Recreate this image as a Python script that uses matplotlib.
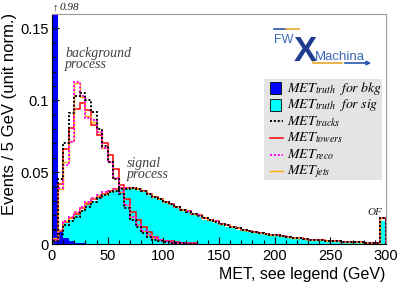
import numpy as np
import matplotlib
matplotlib.use("Agg")
import matplotlib.pyplot as plt
from matplotlib.patches import Rectangle, FancyArrowPatch
from matplotlib.lines import Line2D
from matplotlib.ticker import MultipleLocator, FuncFormatter

W, H = 403, 289

# 5 GeV bins, 0-300 GeV, last bin holds the overflow
edges = np.arange(0, 305, 5)

sig_truth = [0.002, 0.0085, 0.0145, 0.017, 0.020, 0.024, 0.027, 0.030, 0.032, 0.034,
             0.036, 0.037, 0.038, 0.0385, 0.0385, 0.038, 0.037, 0.035, 0.033, 0.031,
             0.029, 0.027, 0.025, 0.023, 0.022, 0.020, 0.019, 0.017, 0.016, 0.0145,
             0.013, 0.012, 0.011, 0.010, 0.009, 0.0082, 0.0076, 0.007, 0.0063, 0.0058,
             0.0053, 0.0048, 0.0044, 0.004, 0.0036, 0.0032, 0.0028, 0.0025, 0.0022, 0.002,
             0.0018, 0.0016, 0.0014, 0.0012, 0.0011, 0.001, 0.0009, 0.0008, 0.0007, 0.016]
sig_tracks = [0.002, 0.007, 0.013, 0.016, 0.019, 0.023, 0.026, 0.029, 0.032, 0.034,
              0.036, 0.037, 0.038, 0.0385, 0.039, 0.038, 0.037, 0.035, 0.033, 0.031,
              0.029, 0.0275, 0.026, 0.024, 0.0225, 0.021, 0.0195, 0.018, 0.017, 0.0155,
              0.014, 0.013, 0.012, 0.011, 0.0098, 0.009, 0.0083, 0.0077, 0.007, 0.0064,
              0.006, 0.0054, 0.005, 0.0045, 0.004, 0.0035, 0.0031, 0.0028, 0.0025, 0.0022,
              0.002, 0.0018, 0.0016, 0.0014, 0.0012, 0.0011, 0.001, 0.0009, 0.0008, 0.018]
sig_towers = [0.003, 0.009, 0.015, 0.018, 0.021, 0.025, 0.028, 0.031, 0.033, 0.035,
              0.037, 0.038, 0.039, 0.039, 0.039, 0.038, 0.037, 0.035, 0.033, 0.031,
              0.029, 0.028, 0.026, 0.024, 0.023, 0.021, 0.020, 0.018, 0.017, 0.016,
              0.014, 0.013, 0.012, 0.011, 0.010, 0.009, 0.0085, 0.0078, 0.007, 0.0065,
              0.006, 0.0055, 0.005, 0.0045, 0.004, 0.0035, 0.003, 0.0028, 0.0025, 0.0022,
              0.002, 0.0018, 0.0016, 0.0014, 0.0012, 0.0011, 0.001, 0.0009, 0.0008, 0.018]
sig_reco = [0.003, 0.010, 0.016, 0.019, 0.022, 0.026, 0.029, 0.032, 0.034, 0.036,
            0.037, 0.038, 0.039, 0.039, 0.039, 0.038, 0.037, 0.035, 0.033, 0.031,
            0.029, 0.028, 0.026, 0.024, 0.023, 0.021, 0.020, 0.018, 0.017, 0.016,
            0.014, 0.013, 0.012, 0.011, 0.010, 0.009, 0.0085, 0.0078, 0.007, 0.0065,
            0.006, 0.0055, 0.005, 0.0045, 0.004, 0.0035, 0.003, 0.0028, 0.0025, 0.0022,
            0.002, 0.0018, 0.0016, 0.0014, 0.0012, 0.0011, 0.001, 0.0009, 0.0008, 0.018]
sig_jets = [0.003, 0.010, 0.016, 0.019, 0.022, 0.026, 0.029, 0.032, 0.034, 0.035,
            0.037, 0.038, 0.039, 0.039, 0.039, 0.038, 0.037, 0.035, 0.033, 0.031,
            0.029, 0.028, 0.026, 0.024, 0.023, 0.021, 0.020, 0.018, 0.017, 0.016,
            0.014, 0.013, 0.012, 0.011, 0.010, 0.009, 0.0085, 0.0078, 0.007, 0.0065,
            0.006, 0.0055, 0.005, 0.0045, 0.004, 0.0035, 0.003, 0.0028, 0.0025, 0.0022,
            0.002, 0.0018, 0.0016, 0.0014, 0.0012, 0.0011, 0.001, 0.0009, 0.0008, 0.018]

# background only fills the low bins
bkg_truth = [0.98, 0.009, 0.004, 0.002, 0.001, 0.0005]
bkg_tracks = [0.010, 0.045, 0.070, 0.091, 0.103, 0.105, 0.100, 0.092, 0.080, 0.068,
              0.057, 0.045, 0.035, 0.025, 0.017, 0.012, 0.008, 0.005, 0.003, 0.002,
              0.0015, 0.001, 0.0008, 0.0005, 0.0003, 0.0002]
bkg_towers = [0.003, 0.042, 0.066, 0.081, 0.094, 0.098, 0.093, 0.083, 0.076, 0.070,
              0.062, 0.052, 0.041, 0.031, 0.0225, 0.017, 0.012, 0.0085, 0.005, 0.003,
              0.002, 0.0018, 0.0012, 0.001, 0.0007, 0.0005]
bkg_reco = [0.003, 0.039, 0.055, 0.071, 0.113, 0.103, 0.088, 0.086, 0.078, 0.067,
            0.057, 0.046, 0.036, 0.027, 0.019, 0.013, 0.009, 0.006, 0.004, 0.003,
            0.002, 0.0015, 0.001, 0.0008, 0.0005, 0.0003]
bkg_jets = [0.004, 0.038, 0.057, 0.072, 0.112, 0.102, 0.089, 0.085, 0.078, 0.067,
            0.057, 0.046, 0.036, 0.027, 0.019, 0.013, 0.009, 0.006, 0.004, 0.003,
            0.002, 0.0015, 0.001, 0.0008, 0.0005, 0.0003]

legend_labels = [r"$MET_{truth}\ \ for\ bkg$", r"$MET_{truth}\ \ for\ sig$",
                 r"$MET_{tracks}$", r"$MET_{towers}$", r"$MET_{reco}$", r"$MET_{jets}$"]

plt.rcParams['font.family'] = ['Liberation Sans', 'DejaVu Sans']
plt.rcParams['mathtext.fontset'] = 'stix'
serif = ['Liberation Serif', 'DejaVu Serif']


def fx(x):
    return x / W


def fy(y):
    return 1 - y / H


def draw(vals, color, lw, ls='-'):
    ax.stairs(vals, edges[:len(vals) + 1], color=color, lw=lw, ls=ls, baseline=0)


fig = plt.figure(figsize=(W / 100, H / 100), dpi=100)
ax = fig.add_axes([fx(52), fy(244), (386 - 52) / W, (244 - 14) / H])

ax.stairs(sig_truth, edges, fill=True, color='#00ffff', lw=0)
ax.stairs(bkg_truth, edges[:len(bkg_truth) + 1], fill=True, color='#0000ff', lw=0)

dots = (0, (1, 1))
for s in (sig_towers, bkg_towers):
    draw(s, '#ff0000', 1.1)
for s in (sig_jets, bkg_jets):
    draw(s, '#ffaa00', 1.0)
for s in (sig_reco, bkg_reco):
    draw(s, '#ff00ff', 1.4, dots)
for s in (sig_tracks, bkg_tracks):
    draw(s, 'black', 1.4, dots)

ax.set_xlim(0, 300)
ax.set_ylim(0, 0.16)
ax.xaxis.set_major_locator(MultipleLocator(50))
ax.xaxis.set_minor_locator(MultipleLocator(10))
ax.yaxis.set_major_locator(MultipleLocator(0.05))
ax.yaxis.set_minor_locator(MultipleLocator(0.01))
ax.yaxis.set_major_formatter(FuncFormatter(lambda v, p: '%g' % round(v, 3)))
ax.tick_params(which='both', direction='in', top=False, right=False, width=0.8, labelsize=10.5)
ax.tick_params(which='major', length=5)
ax.tick_params(which='minor', length=2.8)
ax.tick_params(axis='x', pad=3.5)
ax.tick_params(axis='y', pad=2.5)
for side in ('top', 'right'):
    ax.spines[side].set_color('#999999')
    ax.spines[side].set_linewidth(0.8)
for side in ('left', 'bottom'):
    ax.spines[side].set_linewidth(0.8)

fig.text(fx(385), fy(279), "MET, see legend (GeV)", ha='right', va='baseline', fontsize=11.5)
fig.text(fx(10), fy(13), "Events / 5 GeV (unit norm.)", rotation=90, ha='center', va='top',
         fontsize=12)

txt = dict(style='italic', family=serif, fontsize=10, color='#404040', va='baseline')
fig.text(fx(65), fy(56.7), "background", **txt)
fig.text(fx(65), fy(68.3), "process", **txt)
fig.text(fx(127), fy(166.7), "signal", **txt)
fig.text(fx(127), fy(178.3), "process", **txt)
fig.text(fx(53), fy(10.5), "\u2191", family=serif, fontsize=8, va='baseline', color='#222222')
fig.text(fx(60), fy(10.5), "0.98", style='italic', family=serif, fontsize=8, va='baseline',
         color='#222222')
fig.text(fx(367), fy(215), "OF", style='italic', family=serif, fontsize=8, va='baseline',
         color='#222222')

# legend box
fig.patches.append(Rectangle((fx(264), fy(180)), (382 - 264) / W, (180 - 79) / H,
                             transform=fig.transFigure, facecolor='#e4e4e4', edgecolor='none'))
styles = [('#0000ff', None, None), ('#00ffff', None, None), ('black', 1.4, dots),
          ('#ff0000', 1.1, '-'), ('#ff00ff', 1.4, dots), ('#ffaa00', 1.0, '-')]
for i, (lab, (c, lw, ls)) in enumerate(zip(legend_labels, styles)):
    base = 91.7 + 16.6 * i
    if lw is None:
        fig.patches.append(Rectangle((fx(270), fy(base + 2.5)), 11 / W, 12 / H,
                                     transform=fig.transFigure, facecolor=c,
                                     edgecolor='black', lw=0.6))
    else:
        fig.add_artist(Line2D([fx(270), fx(283)], [fy(base - 3.5)] * 2, color=c, lw=lw,
                              ls=ls, transform=fig.transFigure))
    fig.text(fx(287), fy(base), lab, fontsize=10, va='baseline', color='black')

# FWXMachina logo
fig.add_artist(Line2D([fx(274), fx(286)], [fy(29)] * 2, color='#2a56b0', lw=1.2,
                      transform=fig.transFigure))
fig.add_artist(Line2D([fx(286), fx(299)], [fy(29)] * 2, color='#e8a530', lw=1.2,
                      transform=fig.transFigure))
fig.text(fx(274), fy(43), "FW", color='#3a66b8', fontsize=9, va='baseline')
fig.text(fx(294), fy(61), "X", color='#1f3c8f', fontsize=25, fontweight='bold', va='baseline')
fig.text(fx(315), fy(60), "Machina", color='#3a66b8', fontsize=9.5, va='baseline')
fig.add_artist(Line2D([fx(313), fx(313), fx(342)], [fy(58), fy(63), fy(63)], color='#e8a530',
                      lw=1.2, transform=fig.transFigure))
fig.add_artist(FancyArrowPatch((fx(342), fy(63)), (fx(374), fy(63)), arrowstyle='-|>',
                               mutation_scale=6, color='#2a56b0', lw=1.2,
                               transform=fig.transFigure))

fig.savefig("out.png", dpi=100)
